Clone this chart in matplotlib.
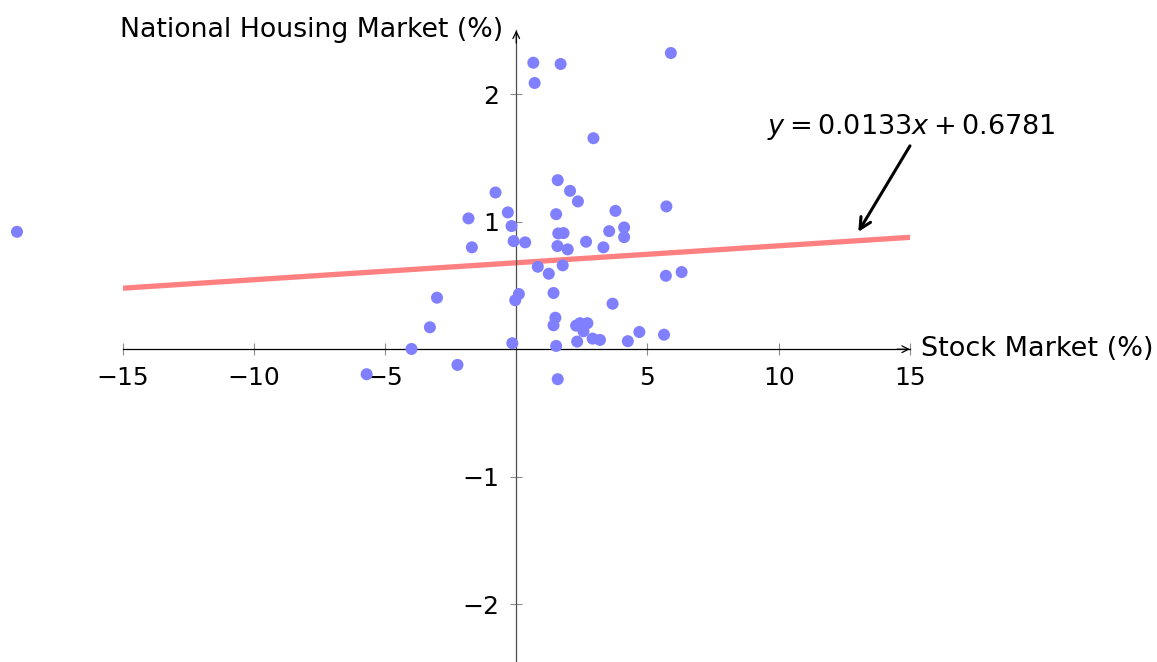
import numpy as np
import matplotlib.pyplot as plt

# monthly returns (%): stock market vs national housing market
stock = [0.65, 1.69, 0.70, 5.89, 2.94,
         1.58, 2.05, 2.35, -0.79, -0.32, -1.82, -0.18, 1.52, 3.78, 5.72,
         1.60, 1.80, 3.54, 4.11, 4.11, -0.10, 0.34, -1.69, 1.57, 1.96,
         2.66, 3.32, 0.82, 1.77, 1.24, 5.70, 6.30, -3.02, 0.10, -0.04,
         1.42, 3.67, -3.29, 1.49, 1.42, 2.28, 2.43, 2.71, 2.56, 2.91,
         3.19, 2.32, 4.25, 4.69, 5.63, -0.15, 1.52, -3.99, -2.24, 1.58,
         -5.70, -19.02]
housing = [2.247, 2.237, 2.088, 2.323, 1.655,
           1.326, 1.242, 1.159, 1.229, 1.073, 1.026, 0.966, 1.059, 1.085, 1.120,
           0.908, 0.911, 0.926, 0.955, 0.879, 0.848, 0.838, 0.799, 0.809, 0.783,
           0.843, 0.799, 0.647, 0.658, 0.592, 0.576, 0.605, 0.404, 0.433, 0.384,
           0.441, 0.357, 0.172, 0.247, 0.188, 0.185, 0.204, 0.204, 0.141, 0.083,
           0.073, 0.060, 0.063, 0.135, 0.114, 0.047, 0.026, 0.002, -0.123, -0.235,
           -0.196, 0.921]

slope = 0.0133
intercept = 0.6781
fit_x = np.array([-15, 15])

xticks = [-15, -10, -5, 5, 10, 15]
yticks = [-2, -1, 1, 2]

plt.rcParams['mathtext.fontset'] = 'dejavusans'

fig = plt.figure(figsize=(11.57, 6.62), dpi=100)
ax = fig.add_axes([0.1059, 0.0, 0.6806, 0.954])
ax.set_xlim(-15, 15)
ax.set_ylim(-2.453, 2.5)

# axis lines through the origin
for side in ['top', 'right']:
    ax.spines[side].set_visible(False)
ax.spines['left'].set_position(('data', 0))
ax.spines['bottom'].set_position(('data', 0))
ax.spines['left'].set_color('0.3')
ax.spines['left'].set_linewidth(0.9)
ax.spines['bottom'].set_linewidth(0.9)

ax.set_xticks(xticks)
ax.set_yticks(yticks)
ax.tick_params(direction='inout', length=8, width=0.8, color='0.55',
               labelsize=18, pad=8)

arrow = dict(arrowstyle='->', lw=0.9, color='black', shrinkA=0, shrinkB=0,
             mutation_scale=12)
ax.annotate('', xy=(15, 0), xytext=(14.5, 0), arrowprops=arrow)
ax.annotate('', xy=(0, 2.5), xytext=(0, 2.4), arrowprops=arrow,
            annotation_clip=False)

ax.plot(fit_x, slope * fit_x + intercept, color='#ff8080', lw=3.8, zorder=2)
ax.scatter(stock, housing, s=75, color='#8080ff', edgecolors='none',
           zorder=3, clip_on=False)

# fitted equation with a pointer to the line
ax.text(15.05, 1.74, r'$y = %.4fx + %.4f$' % (slope, intercept),
        ha='center', va='center', fontsize=19.5)
ax.annotate('', xy=(13.03, 0.92), xytext=(15.0, 1.595),
            arrowprops=dict(arrowstyle='->', lw=2.2, color='black',
                            shrinkA=0, shrinkB=0, mutation_scale=20))

ax.text(15.43, 0, 'Stock Market (%)', fontsize=19.5, ha='left', va='center')
ax.text(-0.5, 2.5, 'National Housing Market (%)', fontsize=19.3,
        ha='right', va='center')

fig.savefig('out.png', dpi=100)
